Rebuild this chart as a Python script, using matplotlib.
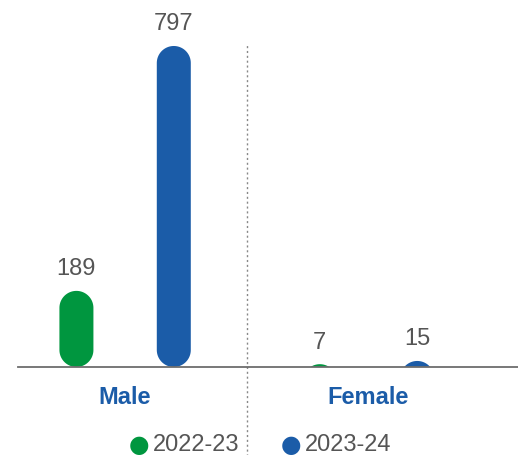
import numpy as np
import matplotlib.pyplot as plt
from matplotlib.patches import Polygon

plt.rcParams['font.family'] = ['Liberation Sans', 'DejaVu Sans']

groups = ['Male', 'Female']
years = ['2022-23', '2023-24']
values_2223 = [189, 7]
values_2324 = [797, 15]

green = '#00963f'
blue = '#1b5ca8'
grey_txt = '#555555'

W, H, DPI = 518, 456, 100
fig = plt.figure(figsize=(W / DPI, H / DPI), dpi=DPI)
# axes in pixels: left 18, right 518, top 20, baseline 368
ax_l, ax_r, ax_t, ax_b = 18, 518, 20, 368
ax = fig.add_axes([ax_l / W, (H - ax_b) / H, (ax_r - ax_l) / W, (ax_b - ax_t) / H])

xlim = (-0.44, 1.614)
ylim = (0, 864)
ax.set_xlim(*xlim)
ax.set_ylim(*ylim)

x_per_px = (xlim[1] - xlim[0]) / (ax_r - ax_l)
y_per_px = (ylim[1] - ylim[0]) / (ax_b - ax_t)

offset = 0.2
bar_px = 34
rx = bar_px / 2 * x_per_px
ry = bar_px / 2 * y_per_px


def capsule(cx, h, color):
    yt = h - ry
    yb = min(ry, yt)
    t1 = np.linspace(0, np.pi, 60)
    t2 = np.linspace(np.pi, 2 * np.pi, 60)
    xs = np.concatenate([cx + rx * np.cos(t1), cx + rx * np.cos(t2)])
    ys = np.concatenate([yt + ry * np.sin(t1), yb + ry * np.sin(t2)])
    ax.add_patch(Polygon(np.column_stack([xs, ys]), closed=True,
                         facecolor=color, edgecolor='none', zorder=2))


x = np.arange(len(groups))
for series, sign, color in [(values_2223, -1, green), (values_2324, 1, blue)]:
    for xi, v in zip(x, series):
        cx = xi + sign * offset
        capsule(cx, v, color)
        ax.annotate(str(v), (cx, v), xytext=(0, 12), textcoords='offset points',
                    ha='center', va='baseline', fontsize=17, color=grey_txt)

# divider
ax.axvline(0.5, ymin=-92 / 348, ymax=(368 - 45) / 348, color='#888888',
           lw=1, ls=(0, (1.5, 2)), clip_on=False, zorder=1)

for s in ['top', 'left', 'right']:
    ax.spines[s].set_visible(False)
ax.spines['bottom'].set_color('#6d6d6d')
ax.spines['bottom'].set_linewidth(1.3)
ax.spines['bottom'].set_zorder(3)
ax.set_yticks([])
ax.set_xticks(x, groups)
ax.tick_params(axis='x', length=0, pad=13)
for lbl in ax.get_xticklabels():
    lbl.set_fontsize(17)
    lbl.set_fontweight('bold')
    lbl.set_color(blue)

# legend
leg_y = 1 - 445 / H
for px, year, color in [(139, years[0], green), (291, years[1], blue)]:
    fig.text(px / W, leg_y, '\u25cf', color=color, fontsize=17, ha='center', va='center',
             family=['DejaVu Sans'])
    fig.text((px + 14) / W, leg_y, year, color=grey_txt, fontsize=17, ha='left', va='center')

fig.savefig('out.png', dpi=DPI)
